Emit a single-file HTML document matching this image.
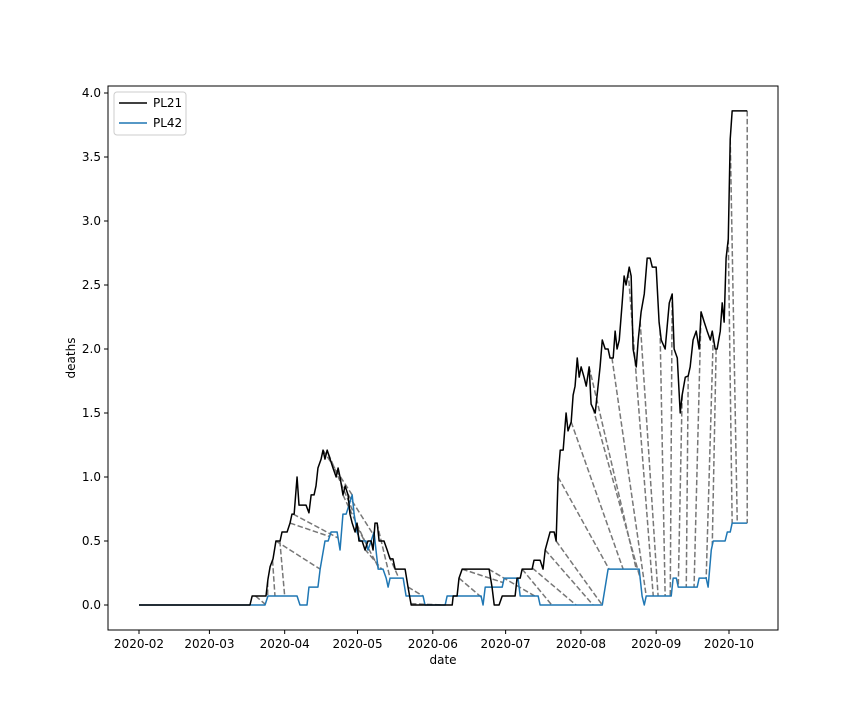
<!DOCTYPE html>
<html><head><meta charset="utf-8"><style>
body{margin:0;background:#fff;}
svg{font-family:"DejaVu Sans","Liberation Sans",sans-serif;}
</style></head><body>
<svg id="chart" width="864" height="720">
<rect x="0" y="0" width="864" height="720" fill="#fff"/>
<g id="plot"></g>
</svg>
<script>
// day offsets from 2020-02-01
const tickLabels = ["2020-02","2020-03","2020-04","2020-05","2020-06","2020-07","2020-08","2020-09","2020-10"];
const tickDays = [0,29,60,90,121,151,182,213,243];
const yTicks = [0,0.5,1,1.5,2,2.5,3,3.5,4];
const pl21Days = [0,45.7,46.6,52.3,53.1,54,55.2,56.4,58.1,58.9,61,62.2,63,63.9,65.1,65.9,68.8,70,70.9,72.1,72.9,73.7,75,75.8,76.6,77.5,78.7,79.9,81.2,82,82.8,84,84.9,86.1,86.9,87.8,89,89.8,90.6,91.9,93.1,94.3,95.6,96.4,97.2,98.1,98.9,100.9,102.2,103.4,104.6,105.5,109.6,110.8,112.1,129,129.4,131,131.8,133.1,144.2,145.4,146.3,148.3,149.6,154.9,155.7,157,157.8,161.9,162.7,165.2,166.4,167.3,169.3,171,171.8,172.6,173.5,174.7,175.9,176.7,178,178.8,179.6,180.5,181.3,182.1,183.3,184.2,185.4,186.2,187.9,189.9,190.8,192,193.2,194,195.3,196.1,196.9,197.8,199,199.8,200.6,201.9,202.7,203.5,204.8,205.6,206.8,208.1,209.3,210.5,211.4,213,214.2,215.1,216.7,218.4,219.6,220.4,221.7,222.9,223.7,225,226.2,227,228.2,229.5,230.7,231.5,232.8,234,235.3,236.1,237.3,238.1,239.4,240.2,241,241.8,242.7,243.5,244.3,250.5];
const pl21Vals = [0,0,0.07,0.07,0.2,0.3,0.36,0.5,0.5,0.57,0.57,0.64,0.71,0.71,1.0,0.78,0.78,0.72,0.86,0.86,0.93,1.07,1.14,1.21,1.14,1.21,1.14,1.07,1.0,1.07,1.0,0.86,0.93,0.86,0.71,0.64,0.57,0.64,0.5,0.5,0.43,0.5,0.5,0.43,0.64,0.64,0.5,0.5,0.43,0.36,0.36,0.28,0.28,0.14,0,0,0.07,0.07,0.21,0.28,0.28,0.14,0,0,0.07,0.07,0.21,0.21,0.28,0.28,0.35,0.35,0.28,0.43,0.57,0.57,0.5,1.0,1.21,1.21,1.5,1.36,1.43,1.64,1.71,1.93,1.78,1.86,1.78,1.71,1.86,1.57,1.5,1.86,2.07,2.0,2.0,1.93,1.93,2.14,2.0,2.07,2.36,2.57,2.5,2.64,2.57,2.0,1.86,2.07,2.29,2.43,2.71,2.71,2.64,2.64,2.21,2.07,2.0,2.36,2.43,2.0,1.93,1.5,1.64,1.78,1.79,1.86,2.07,2.14,2.0,2.29,2.21,2.14,2.07,2.14,2.0,2.0,2.14,2.36,2.21,2.71,2.86,3.64,3.86,3.86];
const pl42Days = [0,51.9,53.1,65.1,66.3,69.2,70,73.7,74.6,76.6,77.9,79.1,81.6,82.8,84,85.3,86.5,87.8,88.6,89.8,91.1,93.5,94.3,95.6,96.8,97.6,98.5,100.5,101.8,102.6,103.4,108.8,110,117,117.8,126.1,126.9,140.9,141.7,142.6,149.6,150.4,156.1,157,164.4,165.2,190.8,192,193.2,206,207.2,208.1,208.9,219.2,220,221.3,222.1,229.9,230.7,233.6,234.4,235.7,236.5,241.4,242.3,243.5,244.3,250.5];
const pl42Vals = [0,0,0.07,0.07,0,0,0.14,0.14,0.28,0.5,0.5,0.57,0.57,0.43,0.71,0.71,0.78,0.86,0.71,0.57,0.5,0.5,0.43,0.5,0.57,0.43,0.28,0.28,0.21,0.14,0.21,0.21,0.07,0.07,0,0,0.07,0.07,0,0.14,0.14,0.21,0.21,0.07,0.07,0,0,0.14,0.28,0.28,0.07,0,0.07,0.07,0.21,0.21,0.14,0.14,0.21,0.21,0.14,0.43,0.5,0.5,0.57,0.57,0.64,0.64];
const pathA = [48,53,55,58,56.4,62.2,63.5,75.8,78,84,86,90,93,98,103,110.8,112,131.8,133.1,144,157.8,162,167.3,171.8,172.6,178,185.4,187,194.8,201.5,206.4,214.6,219.6,223.7,226.2,231.5,236.5,237.7,242.7,243.5,250.5];
const pathB = [52,53,56,60,74.6,78.5,82,87.8,88.6,93,97,99,100,103.4,107,117,125,141,150,163,170,180,187,190.8,193.6,199.4,204.8,206.4,208.9,211.8,213.8,216.7,218.8,222.1,225.4,228.6,233.6,236.1,244.3,246.4,250.5];

const NS='http://www.w3.org/2000/svg';
const L=108,R=778,T=86,B=630;
const xs=d=>139+d*2.428;
const ys=v=>605-v*128;
const g=document.getElementById('plot');
function mk(tag,attrs,parent){const e=document.createElementNS(NS,tag);for(const k in attrs)e.setAttribute(k,attrs[k]);(parent||g).appendChild(e);return e;}
function interp(ds,vs,d){for(let i=1;i<ds.length;i++){if(d<=ds[i]){const t=(d-ds[i-1])/((ds[i]-ds[i-1])||1);return vs[i-1]+t*(vs[i]-vs[i-1]);}}return vs[vs.length-1];}

// dashed alignment lines
for(let i=0;i<pathA.length;i++){
  const ln=mk('line',{x1:xs(pathA[i]),y1:ys(interp(pl21Days,pl21Vals,pathA[i])),x2:xs(pathB[i]),y2:ys(interp(pl42Days,pl42Vals,pathB[i])),stroke:'#777','stroke-width':1.5,'stroke-dasharray':'5.5,2.5'});
  
  
}
function series(ds,vs,color,name){
  const p=mk('polyline',{points:ds.map((d,i)=>xs(d)+','+ys(vs[i])).join(' '),fill:'none',stroke:color,'stroke-width':1.5,'stroke-linejoin':'round'});
  
  
}
series(pl42Days,pl42Vals,'#1f77b4','pl42-line');
series(pl21Days,pl21Vals,'#000','pl21-line');

const frame=mk('rect',{x:L,y:T,width:R-L,height:B-T,fill:'none',stroke:'#000','stroke-width':1});



tickDays.forEach((d,i)=>{
  const x=xs(d);
  mk('line',{x1:x,y1:B,x2:x,y2:B+4,stroke:'#000'});
  const t=mk('text',{x:x,y:B+18,'text-anchor':'middle','font-size':12});
  t.textContent=tickLabels[i];
  
  
});
yTicks.forEach(v=>{
  const y=ys(v);
  mk('line',{x1:L-4,y1:y,x2:L,y2:y,stroke:'#000'});
  const t=mk('text',{x:L-7,y:y+4,'text-anchor':'end','font-size':12});
  t.textContent=v.toFixed(1);
  
  
});
const xt=mk('text',{x:443,y:664,'text-anchor':'middle','font-size':12});
xt.textContent='date';


const yt=mk('text',{x:75,y:358,'text-anchor':'middle','font-size':12,transform:'rotate(-90 75 358)'});
yt.textContent='deaths';



const lg=mk('g',{});


mk('rect',{x:114,y:92,width:72,height:43,rx:3,fill:'#fff',stroke:'#ccc'},lg);
[['PL21','#000',103],['PL42','#1f77b4',123]].forEach(([n,c,y])=>{
  const e=mk('g',{},lg);
  
  
  mk('line',{x1:119,y1:y,x2:147,y2:y,stroke:c,'stroke-width':1.5},e);
  const t=mk('text',{x:153,y:y+4,'font-size':12},e);t.textContent=n;
});
</script>
</body></html>
